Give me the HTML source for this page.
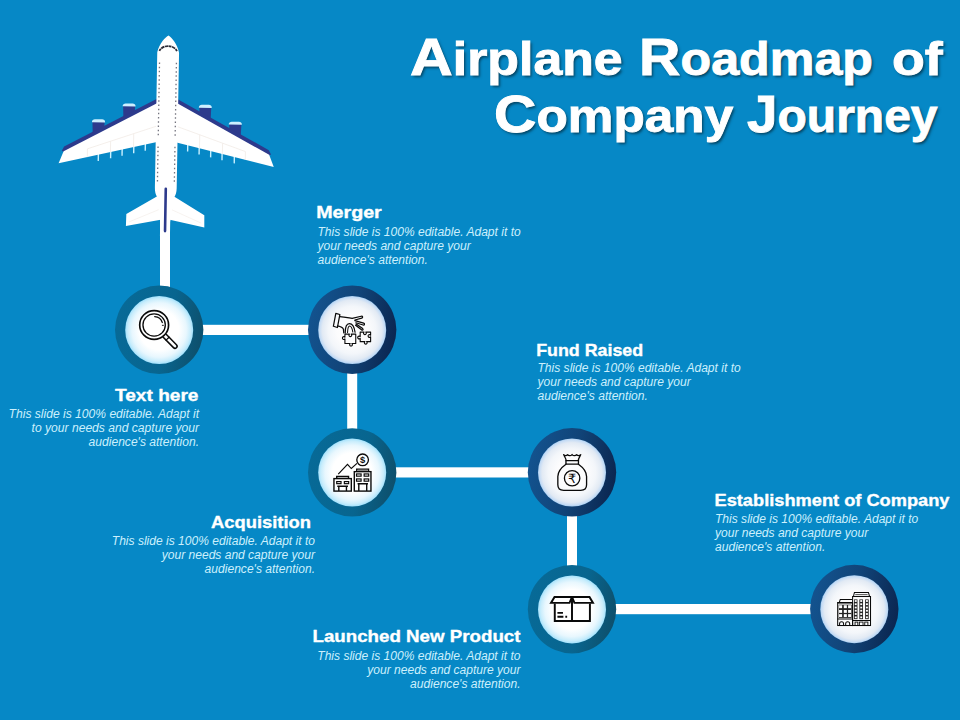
<!DOCTYPE html>
<html lang="en">
<head>
<meta charset="utf-8">
<title>Airplane Roadmap of Company Journey</title>
<style>
html,body{margin:0;padding:0;background:#0688c6;}
body{position:relative;width:960px;height:720px;overflow:hidden;font-family:"Liberation Sans",sans-serif;}
svg{display:block;}
.title{position:absolute;left:0;top:0;margin:0;padding:0;width:960px;height:0;font-family:"Liberation Sans",sans-serif;font-weight:bold;font-size:45.5px;line-height:60px;color:#ffffff;-webkit-text-stroke:0.9px #ffffff;text-shadow:1.6px 2px 2.6px rgba(0,0,0,0.5);}
.w{position:absolute;display:block;white-space:nowrap;transform-origin:0 0;}
.cap::first-letter{font-size:52px;}
.h{font-family:"Liberation Sans",sans-serif;font-weight:bold;font-size:16.6px;fill:#ffffff;stroke:#ffffff;stroke-width:0.35px;stroke-linejoin:round;}
.b{font-family:"Liberation Sans",sans-serif;font-style:italic;font-size:12px;fill:#ccf0fd;}
</style>
</head>
<body>
<svg width="960" height="720" viewBox="0 0 960 720">
<defs>
<linearGradient id="ringT" x1="0" y1="0.4" x2="1" y2="0.6">
<stop offset="0" stop-color="#076a97"/><stop offset="0.6" stop-color="#08658f"/><stop offset="1" stop-color="#0e4f6b"/>
</linearGradient>
<linearGradient id="ringN" x1="0" y1="0.4" x2="1" y2="0.6">
<stop offset="0" stop-color="#13538f"/><stop offset="0.5" stop-color="#114478"/><stop offset="1" stop-color="#0b2650"/>
</linearGradient>
<radialGradient id="inT" cx="0.5" cy="0.5" r="0.5">
<stop offset="0" stop-color="#ffffff"/><stop offset="0.58" stop-color="#ffffff"/><stop offset="0.8" stop-color="#e8f7fe"/><stop offset="0.92" stop-color="#c9edfc"/><stop offset="1" stop-color="#a2e1fc"/>
</radialGradient>
<radialGradient id="inN" cx="0.5" cy="0.5" r="0.5">
<stop offset="0" stop-color="#fefefe"/><stop offset="0.45" stop-color="#fcfcfd"/><stop offset="0.7" stop-color="#f3f6fa"/><stop offset="0.88" stop-color="#e2eaf4"/><stop offset="0.96" stop-color="#c6dcf5"/><stop offset="1" stop-color="#aad0f3"/>
</radialGradient>
</defs>
<rect width="960" height="720" fill="#0688c6"/>
<g fill="#ffffff">
<rect x="160" y="200" width="10" height="100"/>
<rect x="190" y="324.8" width="130" height="10.2"/>
<rect x="347.2" y="360" width="10" height="80"/>
<rect x="380" y="467.3" width="160" height="10.2"/>
<rect x="567" y="500" width="10" height="80"/>
<rect x="600" y="604" width="225" height="10.2"/>
</g>
<g transform="translate(166.8,0) rotate(1.0 0 130)">
<path d="M-44.1,106.2 L-32.1,106.2 L-32.8,124.0 L-43.4,124.0 Z" fill="#2d3a8c"/><path d="M-44.6,107.1 C-44.6,104.8 -43.1,104.1 -41.6,104.1 L-34.6,104.1 C-33.1,104.1 -31.6,104.8 -31.6,107.1 Z" fill="#cdefff"/><path d="M-74.5,122.6 L-62.3,122.6 L-63.0,141.0 L-73.8,141.0 Z" fill="#2d3a8c"/><path d="M-75.0,123.5 C-75.0,121.2 -73.5,120.5 -72.0,120.5 L-64.8,120.5 C-63.3,120.5 -61.8,121.2 -61.8,123.5 Z" fill="#cdefff"/><rect x="-21.9" y="144.0" width="1.4" height="7.2" fill="#c8f0ff"/><rect x="-33.4" y="146.7" width="1.4" height="7.2" fill="#c8f0ff"/><rect x="-45.0" y="149.4" width="1.4" height="7.2" fill="#c8f0ff"/><rect x="-56.4" y="152.1" width="1.4" height="7.2" fill="#c8f0ff"/><rect x="-68.7" y="155.0" width="1.4" height="7.2" fill="#c8f0ff"/><polygon points="-5.0,96.1 -102.4,148.4 -104.6,152.6 -102.8,153.8 -5.0,101.3" fill="#2d3a8c"/><polygon points="-5.0,100.5 -102.8,153.0 -107.6,165.2 -5.0,141.2" fill="#ffffff"/><path d="M-10.8,126.5 L-79,150.2 M-33,134.2 L-33,148 M-56,142.2 L-56,153 M-79,150.2 L-79,158.5" stroke="#f1ebe6" stroke-width="0.8" fill="none"/><path d="M32.1,106.2 L44.1,106.2 L43.4,124.0 L32.8,124.0 Z" fill="#2d3a8c"/><path d="M31.6,107.1 C31.6,104.8 33.1,104.1 34.6,104.1 L41.6,104.1 C43.1,104.1 44.6,104.8 44.6,107.1 Z" fill="#cdefff"/><path d="M62.3,122.6 L74.5,122.6 L73.8,141.0 L63.0,141.0 Z" fill="#2d3a8c"/><path d="M61.8,123.5 C61.8,121.2 63.3,120.5 64.8,120.5 L72.0,120.5 C73.5,120.5 75.0,121.2 75.0,123.5 Z" fill="#cdefff"/><rect x="20.5" y="144.0" width="1.4" height="7.2" fill="#c8f0ff"/><rect x="32.0" y="146.7" width="1.4" height="7.2" fill="#c8f0ff"/><rect x="43.6" y="149.4" width="1.4" height="7.2" fill="#c8f0ff"/><rect x="55.0" y="152.1" width="1.4" height="7.2" fill="#c8f0ff"/><rect x="67.3" y="155.0" width="1.4" height="7.2" fill="#c8f0ff"/><polygon points="5.0,96.1 102.4,148.4 104.6,152.6 102.8,153.8 5.0,101.3" fill="#2d3a8c"/><polygon points="5.0,100.5 102.8,153.0 107.6,165.2 5.0,141.2" fill="#ffffff"/><path d="M10.8,126.5 L79,150.2 M33,134.2 L33,148 M56,142.2 L56,153 M79,150.2 L79,158.5" stroke="#f1ebe6" stroke-width="0.8" fill="none"/>
<polygon points="0.0,191.5 -8.4,196.4 -39.0,214.6 -39.2,226.8 -4.6,219.8 0.0,218.9" fill="#ffffff"/><path d="M-6,209.5 L-36,222.5" stroke="#f3eeea" stroke-width="0.7" fill="none"/><polygon points="0.0,191.5 8.4,196.4 39.0,214.6 39.2,226.8 4.6,219.8 0.0,218.9" fill="#ffffff"/><path d="M6,209.5 L36,222.5" stroke="#f3eeea" stroke-width="0.7" fill="none"/>
<path d="M0,35.4 C2.6,36.6 9.2,43.6 10.9,52.5 L10.9,188 C10.9,192 10,195 8.6,197 L5,222 L5,236 L-5,236 L-5,222 L-8.6,197 C-10,195 -10.9,192 -10.9,188 L-10.9,52.5 C-9.2,43.6 -2.6,36.6 0,35.4 Z" fill="#ffffff"/>
<path d="M-8.8,51 C-5.4,44.4 5.4,44.4 8.8,51" stroke="#2a2a36" stroke-width="1.8" fill="none" stroke-dasharray="2.4 0.6 3.6 0.6 3.0 0.5 3.0 0.6 3.6 0.6 2.4 10"/>
<g fill="#74747f"><rect x="-9.1" y="62.6" width="1.3" height="1.5"/><rect x="7.8" y="62.6" width="1.3" height="1.5"/><rect x="-9.1" y="66.8" width="1.3" height="1.5"/><rect x="7.8" y="66.8" width="1.3" height="1.5"/><rect x="-9.1" y="71.0" width="1.3" height="1.5"/><rect x="7.8" y="71.0" width="1.3" height="1.5"/><rect x="-9.1" y="75.2" width="1.3" height="1.5"/><rect x="7.8" y="75.2" width="1.3" height="1.5"/><rect x="-9.1" y="79.4" width="1.3" height="1.5"/><rect x="7.8" y="79.4" width="1.3" height="1.5"/><rect x="-9.1" y="83.6" width="1.3" height="1.5"/><rect x="7.8" y="83.6" width="1.3" height="1.5"/><rect x="-9.1" y="87.8" width="1.3" height="1.5"/><rect x="7.8" y="87.8" width="1.3" height="1.5"/><rect x="-9.1" y="92.0" width="1.3" height="1.5"/><rect x="7.8" y="92.0" width="1.3" height="1.5"/><rect x="-9.1" y="96.2" width="1.3" height="1.5"/><rect x="7.8" y="96.2" width="1.3" height="1.5"/><rect x="-9.1" y="100.4" width="1.3" height="1.5"/><rect x="7.8" y="100.4" width="1.3" height="1.5"/><rect x="-9.1" y="104.6" width="1.3" height="1.5"/><rect x="7.8" y="104.6" width="1.3" height="1.5"/><rect x="-9.1" y="108.8" width="1.3" height="1.5"/><rect x="7.8" y="108.8" width="1.3" height="1.5"/><rect x="-9.1" y="113.0" width="1.3" height="1.5"/><rect x="7.8" y="113.0" width="1.3" height="1.5"/><rect x="-9.1" y="117.2" width="1.3" height="1.5"/><rect x="7.8" y="117.2" width="1.3" height="1.5"/><rect x="-9.1" y="121.4" width="1.3" height="1.5"/><rect x="7.8" y="121.4" width="1.3" height="1.5"/><rect x="-9.1" y="125.6" width="1.3" height="1.5"/><rect x="7.8" y="125.6" width="1.3" height="1.5"/><rect x="-9.1" y="129.8" width="1.3" height="1.5"/><rect x="7.8" y="129.8" width="1.3" height="1.5"/><rect x="-9.1" y="134.0" width="1.3" height="1.5"/><rect x="7.8" y="134.0" width="1.3" height="1.5"/><rect x="-9.1" y="146.6" width="1.3" height="1.5"/><rect x="7.8" y="146.6" width="1.3" height="1.5"/><rect x="-9.1" y="150.8" width="1.3" height="1.5"/><rect x="7.8" y="150.8" width="1.3" height="1.5"/><rect x="-9.1" y="155.0" width="1.3" height="1.5"/><rect x="7.8" y="155.0" width="1.3" height="1.5"/><rect x="-9.1" y="159.2" width="1.3" height="1.5"/><rect x="7.8" y="159.2" width="1.3" height="1.5"/><rect x="-9.1" y="163.4" width="1.3" height="1.5"/><rect x="7.8" y="163.4" width="1.3" height="1.5"/><rect x="-9.1" y="167.6" width="1.3" height="1.5"/><rect x="7.8" y="167.6" width="1.3" height="1.5"/><rect x="-9.1" y="171.8" width="1.3" height="1.5"/><rect x="7.8" y="171.8" width="1.3" height="1.5"/><rect x="-9.1" y="176.0" width="1.3" height="1.5"/><rect x="7.8" y="176.0" width="1.3" height="1.5"/><rect x="-9.1" y="180.2" width="1.3" height="1.5"/><rect x="7.8" y="180.2" width="1.3" height="1.5"/></g>
<rect x="-1.3" y="187.4" width="2.6" height="45" rx="1.3" fill="#2d3a8c"/>
</g>
<g transform="translate(159.2,329.8)">
<circle r="44.2" fill="url(#ringT)"/>
<circle r="34" cy="0.2" fill="url(#inT)"/>
<g transform="translate(-25.20,-24.80) scale(0.06944)" fill="none" stroke="#0a0a0a" stroke-width="20" stroke-linecap="round" stroke-linejoin="round">
<circle cx="290" cy="288" r="208" stroke-width="24"/>
<circle cx="290" cy="288" r="161" stroke-width="19"/>
<path d="M298,166 A122,122 0 0 1 408,252" stroke-width="18"/>
<path d="M408,293 L424,293" stroke-width="13"/>
<g transform="translate(290,288) rotate(45.5)">
<path d="M222,-30 L428,-30 A30,30 0 0 1 428,30 L222,30" stroke-width="22"/>
<path d="M276,-30 L276,30" stroke-width="18"/>
</g>
</g>
</g>
<g transform="translate(352.2,329.8)">
<circle r="44.2" fill="url(#ringN)"/>
<circle r="34" cy="0.2" fill="url(#inN)"/>
<g transform="translate(-25.20,-24.80) scale(0.06944)" fill="none" stroke="#0a0a0a" stroke-width="18" stroke-linecap="round" stroke-linejoin="round">
<path d="M127,122 L185,137 L150,324 L92,306 Z"/>
<path d="M185,166 C250,172 300,182 362,192 L492,162 C516,158 520,182 500,188 L402,216"/>
<path d="M402,226 L528,262 C548,270 540,294 520,288 L416,256"/>
<path d="M420,272 L514,340 C528,356 510,370 497,358 L412,292"/>
<path d="M152,300 C200,310 228,322 236,348 L242,402"/>
<path d="M262,405 C262,330 280,268 322,268 C365,268 395,330 404,392"/>
<path d="M296,396 C298,342 306,302 326,302 C346,302 364,342 372,390" stroke-width="15"/>
<path d="M258,420 L324,420 A20,20 0 1 0 348,420 L414,420 L414,555 L358,555 A20,20 0 1 1 334,555 L258,555 L258,488 A20,20 0 1 1 258,464 Z" stroke-width="16"/>
<path d="M478,390 L534,390 A20,20 0 1 0 558,390 L628,390 L628,434 A20,20 0 1 0 628,458 L628,528 L570,528 A20,20 0 1 1 546,528 L478,528 L478,480 A20,20 0 1 1 478,456 Z" stroke-width="16"/>
</g>
</g>
<g transform="translate(352.2,472.4)">
<circle r="44.2" fill="url(#ringT)"/>
<circle r="34" cy="0.2" fill="url(#inT)"/>
<g transform="translate(-25.20,-25.40) scale(0.06944)" fill="none" stroke="#0a0a0a" stroke-width="20" stroke-linecap="round" stroke-linejoin="round">
<g stroke-linecap="butt" stroke-linejoin="miter">
<circle cx="513" cy="185" r="84" stroke-width="19"/>
<path d="M162,390 L295,250 L350,310 L432,236" stroke-width="17"/>
<rect x="100" y="455" width="250" height="180"/>
<path d="M140,455 L140,425 L310,425 L310,455" />
<rect x="140" y="498" width="62" height="30" stroke-width="17"/>
<rect x="250" y="498" width="62" height="30" stroke-width="17"/>
<path d="M148,566 L302,566 M170,566 L170,635 M280,566 L280,635"/>
<rect x="393" y="355" width="240" height="280"/>
<path d="M428,355 L428,318 L598,318 L598,355"/>
<path d="M440,337 L586,337" stroke="#777" stroke-width="14"/>
<rect x="425" y="388" width="66" height="32" stroke-width="17"/>
<rect x="535" y="388" width="66" height="32" stroke-width="17"/>
<rect x="425" y="460" width="66" height="32" stroke-width="17"/>
<rect x="535" y="460" width="66" height="32" stroke-width="17"/>
<path d="M440,530 L590,530 M458,530 L458,635 M572,530 L572,635"/>
</g>
<text x="513" y="232" font-family="'Liberation Sans',sans-serif" font-size="135" font-weight="bold" text-anchor="middle" fill="#0a0a0a" stroke="none" opacity="0.99">$</text>
</g>
</g>
<g transform="translate(572.0,472.3)">
<circle r="44.2" fill="url(#ringN)"/>
<circle r="34" cy="0.2" fill="url(#inN)"/>
<g transform="translate(-25.00,-25.30) scale(0.06944)" fill="none" stroke="#0a0a0a" stroke-width="19" stroke-linecap="round" stroke-linejoin="round">
<path d="M275,195 C275,160 250,142 240,110 C255,126 277,130 296,112 C312,130 342,130 361,109 C380,130 410,130 427,112 C446,130 468,126 486,110 C476,142 452,160 452,195"/>
<path d="M272,195 L454,195 M272,246 L454,246 M273,195 L273,246 M453,195 L453,246"/>
<path d="M273,248 C200,300 156,350 156,425 L156,545 C156,600 190,625 240,625 L486,625 C536,625 570,600 570,545 L570,425 C570,350 526,300 453,248"/>
<circle cx="362" cy="450" r="111" stroke-width="19"/>
<text x="360" y="522" font-family="'DejaVu Sans','Liberation Sans',sans-serif" font-size="185" font-weight="normal" text-anchor="middle" fill="#0a0a0a" stroke="none" opacity="0.99">₹</text>
</g>
</g>
<g transform="translate(572.0,609.2)">
<circle r="44.2" fill="url(#ringT)"/>
<circle r="34" cy="0.2" fill="url(#inT)"/>
<g transform="translate(-25.00,-25.20) scale(0.06944)" fill="none" stroke="#0a0a0a" stroke-width="20" stroke-linecap="round" stroke-linejoin="round">
<g stroke-linecap="butt" stroke-linejoin="miter" stroke-width="28">
<path d="M112,282 L112,532 L618,532 L618,282"/>
<path d="M108,186 L58,272 L325,272 L360,186 Z"/>
<path d="M612,186 L662,272 L395,272 L360,186 Z"/>
<path d="M360,186 L360,532"/>
<path d="M150,415 L230,415 M150,472 L236,472 M264,472 L290,472" stroke-width="26"/>
</g>
</g>
</g>
<g transform="translate(854.3,609.0)">
<circle r="44.2" fill="url(#ringN)"/>
<circle r="34" cy="0.2" fill="url(#inN)"/>
<g transform="translate(-25.30,-25.00) scale(0.06944)" fill="none" stroke="#0a0a0a" stroke-width="20" stroke-linecap="round" stroke-linejoin="round"><g stroke-linecap="butt" stroke-linejoin="miter" stroke-width="15"><rect x="340" y="180" width="258" height="418"/><path d="M352,180 L366,122 L568,122 L584,180"/><path d="M378,152 L556,152" stroke="#666" stroke-width="16"/><rect x="125" y="272" width="215" height="326"/><path d="M118,268 L332,268 M150,262 L162,222 L332,222" /><path d="M125,505 L340,505 M340,525 L598,525"/><path d="M152,598 L152,572 A29,29 0 0 1 210,572 L210,598 M240,598 L240,572 A29,29 0 0 1 298,572 L298,598"/><rect x="140" y="298" width="188" height="190" fill="#222" stroke="none"/><rect x="145" y="306" width="44" height="42" fill="#fff" stroke="none"/><rect x="145" y="374" width="44" height="42" fill="#fff" stroke="none"/><rect x="145" y="434" width="44" height="42" fill="#fff" stroke="none"/><rect x="213" y="306" width="44" height="42" fill="#fff" stroke="none"/><rect x="213" y="374" width="44" height="42" fill="#fff" stroke="none"/><rect x="213" y="434" width="44" height="42" fill="#fff" stroke="none"/><rect x="275" y="306" width="44" height="42" fill="#fff" stroke="none"/><rect x="275" y="374" width="44" height="42" fill="#fff" stroke="none"/><rect x="275" y="434" width="44" height="42" fill="#fff" stroke="none"/><rect x="360" y="222" width="50" height="284" fill="#222" stroke="none"/><rect x="371" y="232" width="28" height="26" fill="#fff" stroke="none"/><rect x="371" y="278" width="28" height="26" fill="#fff" stroke="none"/><rect x="371" y="326" width="28" height="26" fill="#fff" stroke="none"/><rect x="371" y="372" width="28" height="26" fill="#fff" stroke="none"/><rect x="371" y="419" width="28" height="26" fill="#fff" stroke="none"/><rect x="371" y="467" width="28" height="26" fill="#fff" stroke="none"/><rect x="437" y="222" width="53" height="284" fill="#222" stroke="none"/><rect x="450" y="232" width="28" height="26" fill="#fff" stroke="none"/><rect x="450" y="278" width="28" height="26" fill="#fff" stroke="none"/><rect x="450" y="326" width="28" height="26" fill="#fff" stroke="none"/><rect x="450" y="372" width="28" height="26" fill="#fff" stroke="none"/><rect x="450" y="419" width="28" height="26" fill="#fff" stroke="none"/><rect x="450" y="467" width="28" height="26" fill="#fff" stroke="none"/><rect x="520" y="222" width="52" height="284" fill="#222" stroke="none"/><rect x="532" y="232" width="28" height="26" fill="#fff" stroke="none"/><rect x="532" y="278" width="28" height="26" fill="#fff" stroke="none"/><rect x="532" y="326" width="28" height="26" fill="#fff" stroke="none"/><rect x="532" y="372" width="28" height="26" fill="#fff" stroke="none"/><rect x="532" y="419" width="28" height="26" fill="#fff" stroke="none"/><rect x="532" y="467" width="28" height="26" fill="#fff" stroke="none"/><rect x="375" y="548" width="40" height="50" stroke-width="13"/><rect x="437" y="548" width="53" height="50" stroke-width="13"/><rect x="515" y="548" width="45" height="50" stroke-width="13"/></g></g>
</g>
<g opacity="0.999">
<text x="316.2" y="217.6" class="h" textLength="65.6" lengthAdjust="spacingAndGlyphs">Merger</text>
<text x="317.50" y="235.50" class="b" textLength="203.2" lengthAdjust="spacingAndGlyphs">This slide is 100% editable. Adapt it to</text>
<text x="317.50" y="249.50" class="b" textLength="153.2" lengthAdjust="spacingAndGlyphs">your needs and capture your</text>
<text x="317.50" y="263.50" class="b" textLength="110.4" lengthAdjust="spacingAndGlyphs">audience's attention.</text>

<text x="115.0" y="401.3" class="h" textLength="83.5" lengthAdjust="spacingAndGlyphs">Text here</text>
<text x="8.60" y="417.50" class="b" textLength="190.4" lengthAdjust="spacingAndGlyphs">This slide is 100% editable. Adapt it</text>
<text x="31.60" y="431.50" class="b" textLength="167.4" lengthAdjust="spacingAndGlyphs">to your needs and capture your</text>
<text x="88.60" y="445.50" class="b" textLength="110.4" lengthAdjust="spacingAndGlyphs">audience's attention.</text>

<text x="211" y="528" class="h" textLength="100" lengthAdjust="spacingAndGlyphs">Acquisition</text>
<text x="111.80" y="545.00" class="b" textLength="203.2" lengthAdjust="spacingAndGlyphs">This slide is 100% editable. Adapt it to</text>
<text x="161.80" y="559.00" class="b" textLength="153.2" lengthAdjust="spacingAndGlyphs">your needs and capture your</text>
<text x="204.60" y="573.00" class="b" textLength="110.4" lengthAdjust="spacingAndGlyphs">audience's attention.</text>

<text x="536.2" y="355.6" class="h" textLength="107" lengthAdjust="spacingAndGlyphs">Fund Raised</text>
<text x="537.50" y="371.80" class="b" textLength="203.2" lengthAdjust="spacingAndGlyphs">This slide is 100% editable. Adapt it to</text>
<text x="537.50" y="385.80" class="b" textLength="153.2" lengthAdjust="spacingAndGlyphs">your needs and capture your</text>
<text x="537.50" y="399.80" class="b" textLength="110.4" lengthAdjust="spacingAndGlyphs">audience's attention.</text>

<text x="714.5" y="505.7" class="h" textLength="235" lengthAdjust="spacingAndGlyphs">Establishment of Company</text>
<text x="715.00" y="522.80" class="b" textLength="203.2" lengthAdjust="spacingAndGlyphs">This slide is 100% editable. Adapt it to</text>
<text x="715.00" y="536.80" class="b" textLength="153.2" lengthAdjust="spacingAndGlyphs">your needs and capture your</text>
<text x="715.00" y="550.80" class="b" textLength="110.4" lengthAdjust="spacingAndGlyphs">audience's attention.</text>

<text x="312.5" y="641.8" class="h" textLength="208" lengthAdjust="spacingAndGlyphs">Launched New Product</text>
<text x="317.30" y="659.80" class="b" textLength="203.2" lengthAdjust="spacingAndGlyphs">This slide is 100% editable. Adapt it to</text>
<text x="367.30" y="673.80" class="b" textLength="153.2" lengthAdjust="spacingAndGlyphs">your needs and capture your</text>
<text x="410.10" y="687.80" class="b" textLength="110.4" lengthAdjust="spacingAndGlyphs">audience's attention.</text>

</g>
</svg>
<h1 class="title"><span class="w cap" style="left:409.53px;top:27.00px;transform:scaleX(1.1388)">Airplane</span> <span class="w cap" style="left:638.75px;top:27.00px;transform:scaleX(1.1039)">Roadmap</span> <span class="w" style="left:892.03px;top:30.00px;transform:scaleX(1.1823)">of</span> <span class="w cap" style="left:493.96px;top:84.00px;transform:scaleX(1.1283)">Company</span> <span class="w cap" style="left:747.42px;top:84.00px;transform:scaleX(1.0549)">Journey</span></h1>
</body>
</html>
